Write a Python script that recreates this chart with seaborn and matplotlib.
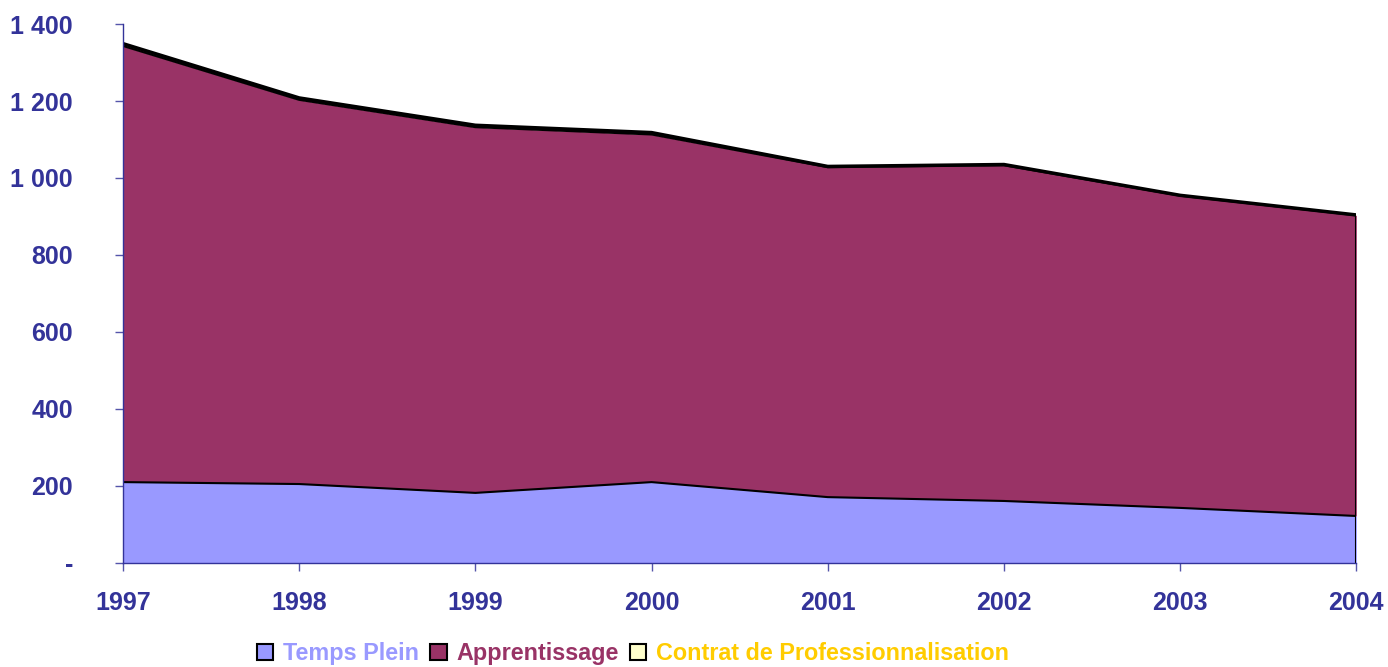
import numpy as np
import pandas as pd
import matplotlib.pyplot as plt
import seaborn as sns
from matplotlib.patches import Patch
from matplotlib.ticker import FuncFormatter

sns.set_style("white")
plt.rcParams['font.family'] = ['Liberation Sans', 'DejaVu Sans']

# Données
annees = [1997, 1998, 1999, 2000, 2001, 2002, 2003, 2004]
temps_plein = [210, 205, 182, 210, 171, 161, 143, 122]
apprentissage = [1133, 998, 950, 903, 857, 872, 811, 781]
contrat_pro = [6, 5, 5, 5, 2, 2, 1, 1]

series = ['Temps Plein', 'Apprentissage', 'Contrat de Professionnalisation']
couleurs = ['#9999FF', '#993366', '#FFFFCC']
couleurs_texte = ['#9999FF', '#993366', '#FFCC00']
bleu = '#333399'

df = pd.DataFrame({'annee': annees, 'Temps Plein': temps_plein,
                   'Apprentissage': apprentissage,
                   'Contrat de Professionnalisation': contrat_pro})

fig = plt.figure(figsize=(13.88, 6.67), dpi=100)
ax = fig.add_axes([0.0886, 0.156, 0.8886, 0.808])

bas = np.zeros(len(df))
epaisseurs = [1.5, 1.5, 2.5]
for nom, c, lw in zip(series, couleurs, epaisseurs):
    haut = bas + df[nom].values
    ax.fill_between(df['annee'], bas, haut, color=c, linewidth=0)
    sns.lineplot(x=df['annee'], y=haut, ax=ax, color='black', linewidth=lw)
    bas = haut

# bord droit
ax.plot([annees[-1], annees[-1]], [0, bas[-1]], color='black', linewidth=1.5)

ax.set_xlim(1997, 2004)
ax.set_ylim(0, 1400)
ax.set_xticks(annees)
ax.set_yticks(range(0, 1401, 200))
ax.yaxis.set_major_formatter(FuncFormatter(
    lambda v, p: '-' if v == 0 else f"{int(v):,}".replace(',', ' ')))
ax.set_xlabel('')
ax.set_ylabel('')

for s in ['top', 'right']:
    ax.spines[s].set_visible(False)
for s in ['left', 'bottom']:
    ax.spines[s].set_color(bleu)
    ax.spines[s].set_linewidth(1)
ax.tick_params(axis='both', colors='#5555AA', direction='out', length=6, width=1,
               labelsize=18, bottom=True, left=True)
ax.tick_params(axis='y', pad=30)
ax.tick_params(axis='x', pad=14)
for lab in ax.get_xticklabels() + ax.get_yticklabels():
    lab.set_fontweight('bold')
    lab.set_color(bleu)

poignees = [Patch(facecolor=c, edgecolor='black', linewidth=1.5) for c in couleurs]
leg = fig.legend(poignees, series, loc='center', bbox_to_anchor=(0.456, 0.02),
                 ncol=3, frameon=False, handlelength=0.7, handleheight=0.7,
                 handletextpad=0.4, columnspacing=0.5,
                 prop={'size': 16.8, 'weight': 'bold'})
for t, c in zip(leg.get_texts(), couleurs_texte):
    t.set_color(c)

fig.savefig('out.png', dpi=100)
